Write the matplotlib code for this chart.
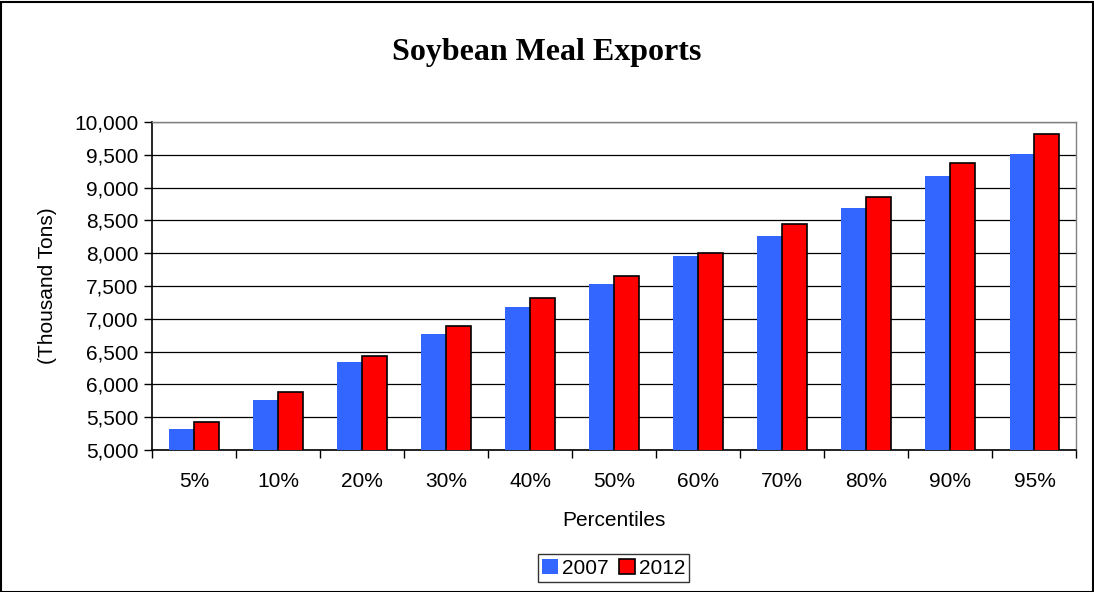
import numpy as np
import matplotlib.pyplot as plt
from matplotlib.patches import Rectangle
from matplotlib.ticker import FuncFormatter

categories = ['5%', '10%', '20%', '30%', '40%', '50%', '60%', '70%', '80%', '90%', '95%']
exports_2007 = [5320, 5766, 6340, 6766, 7173, 7523, 7954, 8264, 8690, 9173, 9518]
exports_2012 = [5426, 5883, 6431, 6893, 7320, 7655, 8005, 8447, 8858, 9376, 9812]

plt.rcParams['font.family'] = ['Liberation Sans', 'DejaVu Sans']

fig = plt.figure(figsize=(10.94, 5.92), dpi=100)
ax = fig.add_axes([0.139, 0.240, 0.845, 0.554])

x = np.arange(len(categories))
w = 0.297
ax.bar(x - w / 2, exports_2007, width=w, color='#3366FF', label='2007', zorder=3)
ax.bar(x + w / 2, exports_2012, width=w, color='#FF0000', edgecolor='black', linewidth=1.2,
       label='2012', zorder=3)

ax.set_ylim(5000, 10000)
ax.set_xlim(-0.5, len(categories) - 0.5)
ax.set_yticks(np.arange(5000, 10001, 500))
ax.yaxis.set_major_formatter(FuncFormatter(lambda v, p: '{:,.0f}'.format(v)))
ax.yaxis.grid(True, color='black', linewidth=0.9, zorder=0)
ax.set_axisbelow(True)

ax.set_xticks(x)
ax.set_xticklabels(categories)
ax.set_xticks(np.arange(-0.5, len(categories)), minor=True)
ax.tick_params(axis='x', which='major', length=0, pad=16, labelsize=15)
ax.tick_params(axis='x', which='minor', length=6, width=1, direction='out')
ax.tick_params(axis='y', length=6, width=1, direction='out', labelsize=15, pad=4)

for s in ['top', 'right']:
    ax.spines[s].set_color('#808080')
    ax.spines[s].set_linewidth(1)
ax.spines['left'].set_linewidth(1.2)
ax.spines['bottom'].set_linewidth(1.2)

ax.set_xlabel('Percentiles', fontsize=15, labelpad=14)
ax.set_ylabel('(Thousand Tons)', fontsize=15, labelpad=12)

fig.text(0.5, 0.912, 'Soybean Meal Exports', ha='center', va='center', fontsize=23,
         fontweight='bold', family='Liberation Serif')

leg = fig.legend(loc='center', bbox_to_anchor=(0.561, 0.0405), ncol=2, fontsize=15,
                 frameon=True, fancybox=False, handlelength=0.75, handleheight=0.75,
                 handletextpad=0.2, columnspacing=0.5, borderpad=0.2, borderaxespad=0)
leg.get_frame().set_edgecolor('black')
leg.get_frame().set_linewidth(1)

fig.patches.append(Rectangle((0.001, 0.0), 0.998, 0.997, transform=fig.transFigure,
                             fill=False, edgecolor='black', linewidth=1.5))

fig.savefig('out.png', dpi=100)
